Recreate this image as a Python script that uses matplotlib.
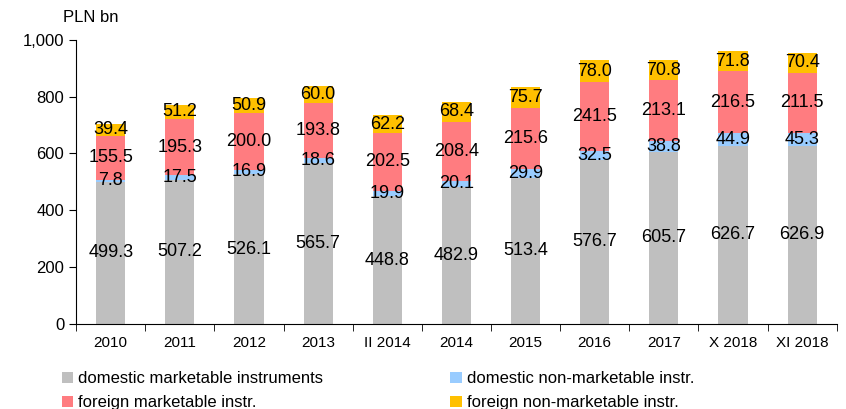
import matplotlib.pyplot as plt
import numpy as np

plt.rcParams['font.family'] = ['Liberation Sans', 'DejaVu Sans']

# Data (PLN bn)
categories = ['2010', '2011', '2012', '2013', 'II 2014', '2014', '2015',
              '2016', '2017', 'X 2018', 'XI 2018']
dom_market = [499.3, 507.2, 526.1, 565.7, 448.8, 482.9, 513.4, 576.7, 605.7, 626.7, 626.9]
dom_nonmarket = [7.8, 17.5, 16.9, 18.6, 19.9, 20.1, 29.9, 32.5, 38.8, 44.9, 45.3]
for_market = [155.5, 195.3, 200.0, 193.8, 202.5, 208.4, 215.6, 241.5, 213.1, 216.5, 211.5]
for_nonmarket = [39.4, 51.2, 50.9, 60.0, 62.2, 68.4, 75.7, 78.0, 70.8, 71.8, 70.4]

series = [
    (dom_market, '#BFBFBF', 'domestic marketable instruments'),
    (dom_nonmarket, '#99CCFF', 'domestic non-marketable instr.'),
    (for_market, '#FF7C80', 'foreign marketable instr.'),
    (for_nonmarket, '#FFC000', 'foreign non-marketable instr.'),
]

fig = plt.figure(figsize=(8.46, 4.09), dpi=100)
ax = fig.add_axes([0.090, 0.208, 0.899, 0.695])

x = np.arange(len(categories))
bottom = np.zeros(len(categories))
handles = []
for vals, color, label in series:
    vals = np.array(vals)
    h = ax.bar(x, vals, 0.42, bottom=bottom, color=color, label=label)
    handles.append(h)
    for xi, b, v in zip(x, bottom, vals):
        ax.text(xi, b + v / 2, f'{v:.1f}', ha='center', va='center',
                fontsize=13, color='black')
    bottom += vals

ax.set_xlim(-0.5, len(categories) - 0.5)
ax.set_ylim(0, 1000)
ax.set_yticks(range(0, 1001, 200))
ax.set_yticklabels([f'{v:,}' for v in range(0, 1001, 200)], fontsize=12)
ax.set_xticks(x)
ax.set_xticklabels(categories, fontsize=11)
ax.tick_params(axis='x', length=0, pad=9)
ax.set_xticks(np.arange(-0.5, len(categories), 1), minor=True)
ax.tick_params(axis='x', which='minor', length=5, direction='out')
ax.tick_params(axis='y', length=5, direction='out')
for s in ['top', 'right']:
    ax.spines[s].set_visible(False)

fig.text(0.075, 0.945, 'PLN bn', fontsize=12)

# legend is filled column-wise, so reorder to get row-wise layout
order = [0, 2, 1, 3]
fig.legend([handles[i] for i in order], [series[i][2] for i in order],
           loc='lower left', bbox_to_anchor=(0.055, -0.04), ncol=2,
           frameon=False, fontsize=12, handlelength=0.7, handleheight=0.7,
           handletextpad=0.3, columnspacing=7.6, labelspacing=0.55)

fig.savefig('out.png', dpi=100)
